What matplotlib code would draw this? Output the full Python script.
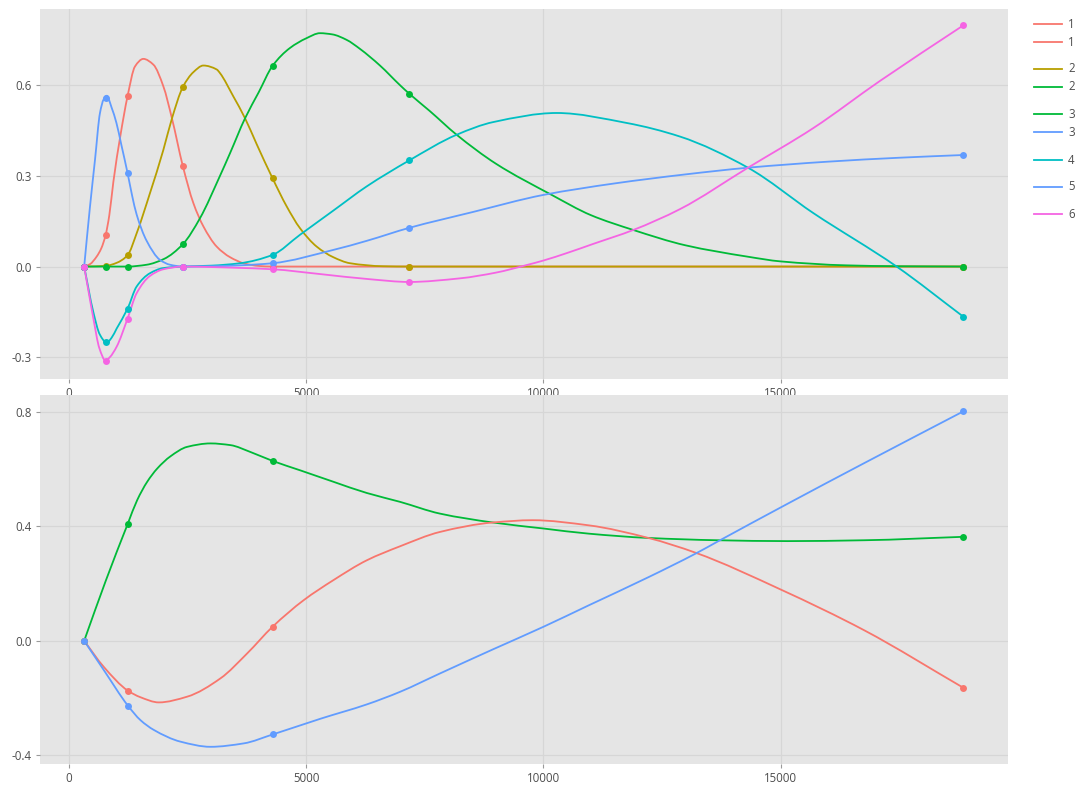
import matplotlib
matplotlib.use("Agg")
import matplotlib.pyplot as plt
from matplotlib.lines import Line2D
from matplotlib.path import Path
from matplotlib.patches import PathPatch

# ---- data ----
# sample points (markers)
x_top = [320, 770, 1235, 2400, 4290, 7170, 18850]
pts_red = [0, 0.103, 0.564, 0.332, 0, 0, 0]
pts_olive = [0, 0.002, 0.0375, 0.594, 0.292, 0, 0]
pts_green = [0, 0, 0, 0.074, 0.664, 0.572, 0]
pts_cyan = [0, -0.249, -0.139, 0, 0.0386, 0.351, -0.166]
pts_blue = [0, 0.559, 0.309, 0, 0.011, 0.128, 0.369]
pts_pink = [0, -0.311, -0.172, 0, -0.009, -0.051, 0.798]

x_bot = [320, 1240, 4290, 18850]
bpts_red = [0, -0.174, 0.049, -0.164]
bpts_green = [0, 0.409, 0.628, 0.363]
bpts_blue = [0, -0.226, -0.327, 0.801]

# traced curves, top panel
cx_red = [320, 443, 583, 680, 770, 850, 935, 1080, 1235, 1391, 1567, 1778, 1989, 2170, 2400,
          2621, 2832, 3113, 3394, 3700, 4000, 4290, 7170, 18850]
cy_red = [0, 0.008, 0.033, 0.06, 0.103, 0.17, 0.28, 0.43, 0.564, 0.662, 0.687, 0.668, 0.596, 0.49,
          0.332, 0.21, 0.133, 0.066, 0.031, 0.01, 0.002, 0, 0, 0]

cx_olive = [320, 770, 1000, 1235, 1426, 1707, 1989, 2170, 2400, 2621, 2832, 3113, 3182, 3463,
            3709, 3955, 4290, 4588, 4868, 5220, 5570, 5922, 6624, 7170, 18850]
cy_olive = [0, 0.002, 0.012, 0.0375, 0.11, 0.243, 0.386, 0.49, 0.594, 0.643, 0.665, 0.652, 0.64,
            0.563, 0.491, 0.405, 0.292, 0.199, 0.127, 0.066, 0.031, 0.011, 0.001, 0, 0]

cx_green = [320, 1235, 1637, 2000, 2400, 2761, 3182, 3394, 3709, 4000, 4290, 4657, 5000, 5290,
            5550, 5850, 6133, 6554, 6976, 7170, 7600, 8170, 9000, 10173, 11000, 11893, 13000,
            14290, 15000, 16379, 17500, 18850]
cy_green = [0, 0, 0.006, 0.025, 0.074, 0.16, 0.3, 0.375, 0.49, 0.577, 0.664, 0.723, 0.755, 0.772,
            0.768, 0.75, 0.72, 0.665, 0.6, 0.572, 0.515, 0.436, 0.34, 0.237, 0.17, 0.121, 0.07,
            0.033, 0.017, 0.004, 0.001, 0]

cx_cyan = [320, 512, 650, 795, 900, 1005, 1235, 1426, 1707, 1988, 2400, 3000, 3604, 4290, 4868,
           5570, 6273, 7170, 8170, 8943, 10278, 11753, 12877, 14310, 15686, 17443, 18850]
cy_cyan = [0, -0.15, -0.225, -0.252, -0.235, -0.205, -0.139, -0.066, -0.022, -0.005, 0, 0.003,
           0.011, 0.0386, 0.105, 0.185, 0.265, 0.351, 0.436, 0.478, 0.508, 0.475, 0.43, 0.327,
           0.177, 0, -0.166]

cx_blue = [320, 443, 548, 653, 730, 795, 900, 1000, 1100, 1235, 1330, 1426, 1637, 1918, 2129,
           2400, 3000, 3600, 4290, 5570, 6273, 7170, 8500, 10000, 11500, 13000, 14310, 16000,
           17500, 18850]
cy_blue = [0, 0.199, 0.353, 0.508, 0.553, 0.565, 0.525, 0.475, 0.405, 0.309, 0.235, 0.172, 0.085,
           0.022, 0.006, 0, 0.001, 0.004, 0.011, 0.055, 0.085, 0.128, 0.18, 0.237, 0.275, 0.305,
           0.327, 0.347, 0.36, 0.369]

cx_pink = [320, 443, 512, 640, 770, 860, 1005, 1235, 1426, 1707, 1988, 2400, 3500, 4290,
           5300, 6344, 7170, 8240, 9000, 9646, 10000, 10500, 11050, 11893, 12877, 14310,
           15686, 17091, 18850]
cy_pink = [0, -0.11, -0.17, -0.27, -0.311, -0.3, -0.265, -0.172, -0.088, -0.031, -0.009, 0,
           -0.004, -0.009, -0.025, -0.042, -0.051, -0.039, -0.02, 0.005, 0.02, 0.045,
           0.075, 0.121, 0.19, 0.327, 0.458, 0.614, 0.798]

# traced curves, bottom panel
bx_green = [320, 776, 1240, 1437, 1648, 1858, 2139, 2491, 2982, 3404, 3825, 4290, 4874, 5575,
            6276, 6978, 7818, 8933, 10000, 10956, 12211, 13676, 15140, 16757, 18850]
by_green = [0, 0.21, 0.409, 0.491, 0.555, 0.601, 0.644, 0.677, 0.689, 0.683, 0.659, 0.628, 0.595,
            0.555, 0.516, 0.485, 0.444, 0.413, 0.392, 0.374, 0.359, 0.351, 0.348, 0.351, 0.363]

bx_red = [320, 733, 1240, 1507, 1893, 2490, 3193, 3755, 4290, 4948, 5575, 6276, 6978, 7818, 8933,
          9770, 10956, 12211, 13213, 15000, 16757, 18850]
by_red = [0, -0.091, -0.174, -0.197, -0.215, -0.195, -0.131, -0.044, 0.049, 0.142, 0.212, 0.281,
          0.33, 0.38, 0.413, 0.421, 0.403, 0.359, 0.307, 0.179, 0.037, -0.164]

bx_blue = [320, 733, 1240, 1507, 1787, 2350, 2982, 3684, 4290, 5300, 6276, 6978, 7818, 8933,
           10000, 10956, 12211, 13213, 13676, 15140, 16757, 18850]
by_blue = [0, -0.102, -0.226, -0.277, -0.311, -0.352, -0.37, -0.358, -0.327, -0.272, -0.222,
           -0.178, -0.114, -0.03, 0.049, 0.124, 0.222, 0.305, 0.347, 0.478, 0.62, 0.801]

legend_labels = ['1', '1', '2', '2', '3', '3', '4', '5', '6']

RED, OLIVE, GREEN = '#F8766D', '#B79F00', '#00BA38'
CYAN, BLUE, PINK = '#00BFC4', '#619CFF', '#F564E3'
legend_colors = [RED, RED, OLIVE, GREEN, GREEN, BLUE, CYAN, BLUE, PINK]

BG = '#E5E5E5'
GRID = '#D6D6D6'
TXT = '#4D4D4D'

plt.rcParams['font.family'] = ['Open Sans', 'DejaVu Sans']


def smooth_path(xs, ys):
	# monotone cubic (pchip-style) bezier through the traced points, so the
	# line is rendered smooth like the original spline without adding data
	n = len(xs)
	h = [xs[i+1] - xs[i] for i in range(n-1)]
	d = [(ys[i+1] - ys[i]) / h[i] for i in range(n-1)]
	m = [0.0] * n
	m[0], m[-1] = d[0], d[-1]
	for k in range(1, n-1):
		if d[k-1] * d[k] <= 0:
			m[k] = 0.0
		else:
			w1 = 2*h[k] + h[k-1]
			w2 = h[k] + 2*h[k-1]
			m[k] = (w1 + w2) / (w1/d[k-1] + w2/d[k])
	verts = [(xs[0], ys[0])]
	codes = [Path.MOVETO]
	for i in range(n-1):
		t = h[i] / 3
		verts += [(xs[i] + t, ys[i] + t*m[i]), (xs[i+1] - t, ys[i+1] - t*m[i+1]), (xs[i+1], ys[i+1])]
		codes += [Path.CURVE4] * 3
	return Path(verts, codes)


def style(ax, yticks, ylim):
	ax.set_facecolor(BG)
	for s in ax.spines.values():
		s.set_visible(False)
	ax.set_xlim(-611, 19790)
	ax.set_ylim(*ylim)
	ax.set_xticks([0, 5000, 10000, 15000])
	ax.set_yticks(yticks)
	ax.set_yticklabels([f"{t:.1f}" for t in yticks])
	ax.grid(True, color=GRID, linewidth=0.9)
	ax.set_axisbelow(True)
	ax.tick_params(length=3, width=0.8, color='#9A9A9A', labelcolor=TXT, labelsize=8.3, pad=3)


fig = plt.figure(figsize=(10.78, 7.89), dpi=100)
ax1 = fig.add_axes([40/1078, 1-379/789, 968/1078, 370/789])
ax2 = fig.add_axes([40/1078, 1-764/789, 968/1078, 369/789])

style(ax1, [-0.3, 0.0, 0.3, 0.6], (-0.372, 0.852))
style(ax2, [-0.4, 0.0, 0.4, 0.8], (-0.430, 0.858))

lw, ms = 1.3, 5
top = [
	(cx_red, cy_red, pts_red, RED),
	(cx_olive, cy_olive, pts_olive, OLIVE),
	(cx_green, cy_green, pts_green, GREEN),
	(cx_cyan, cy_cyan, pts_cyan, CYAN),
	(cx_blue, cy_blue, pts_blue, BLUE),
	(cx_pink, cy_pink, pts_pink, PINK),
]
bottom = [
	(bx_green, by_green, bpts_green, GREEN),
	(bx_red, by_red, bpts_red, RED),
	(bx_blue, by_blue, bpts_blue, BLUE),
]
for ax, series, xp in ((ax1, top, x_top), (ax2, bottom, x_bot)):
	for z, (cx, cy, pts, c) in enumerate(series):
		ax.add_patch(PathPatch(smooth_path(cx, cy), fill=False, edgecolor=c, lw=lw,
		                       capstyle='round', joinstyle='round', zorder=2 + z*0.01))
		ax.plot(xp, pts, 'o', color=c, ms=ms, mec='none', zorder=3)

# legend drawn by hand, plotly-style spacing (groups separated by a gap)
leg_y = [24, 42, 69, 87, 114, 132, 160, 187, 214]
for lab, c, yy in zip(legend_labels, legend_colors, leg_y):
	fy = 1 - yy/789
	fig.add_artist(Line2D([1034/1078, 1062/1078], [fy, fy], color=c, lw=1.3, transform=fig.transFigure))
	fig.text(1068/1078, fy, lab, color=TXT, fontsize=8.3, va='center', ha='left')

fig.savefig('out.png', dpi=100, facecolor='white')
